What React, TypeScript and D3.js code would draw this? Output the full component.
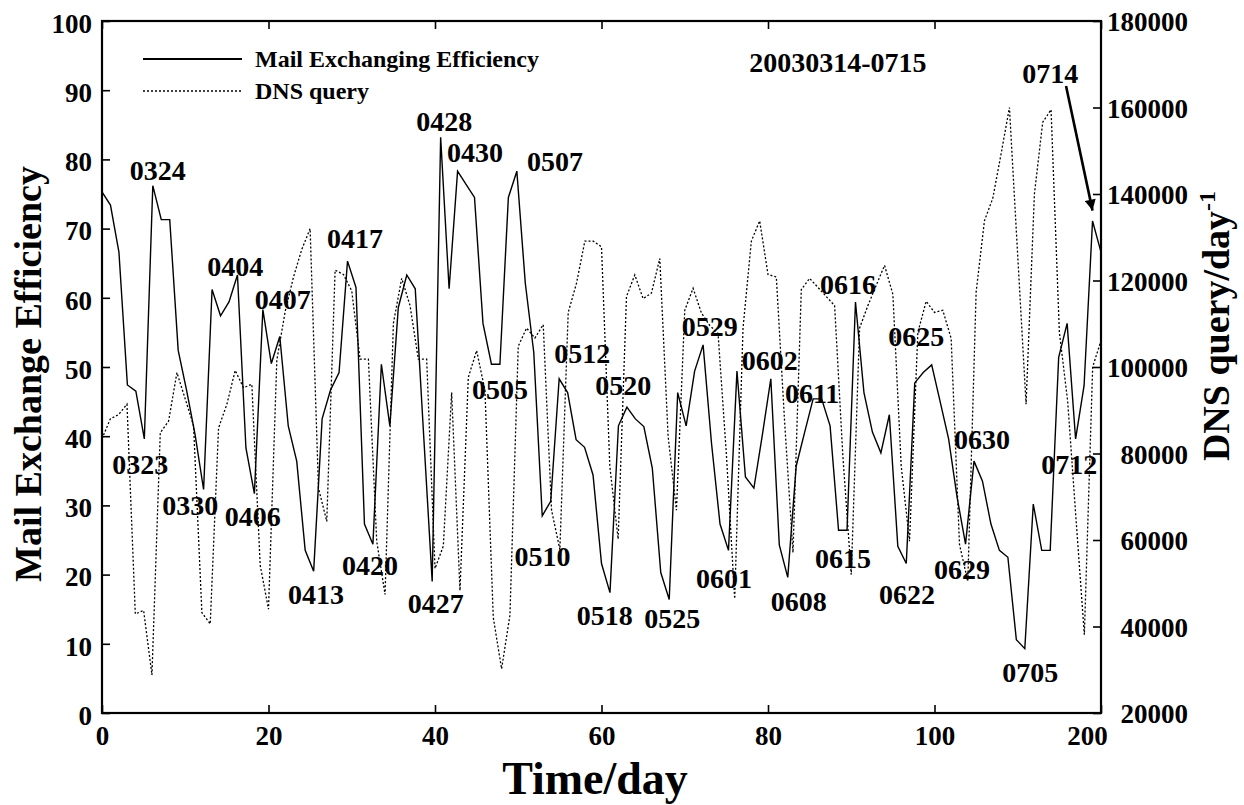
import * as d3 from "d3";
import React, { useRef, useEffect } from "react";

const width = 1244;
const height = 805;
const margin = { top: 21, right: 143, bottom: 92, left: 102 };
const font = "'Liberation Serif', 'Times New Roman', Times, serif";

// mail exchanging efficiency, one sample per step (spread over 0..120 days)
const mailEff = [
  75.3, 73.4, 66.6, 47.4, 46.5, 39.6, 76.2, 71.3, 71.3, 52.4,
  46.6, 40.2, 32.3, 61.2, 57.4, 59.4, 63.3, 38.3, 31.7, 58.3,
  50.5, 54.4, 41.5, 36.4, 23.5, 20.5, 42.5, 46.7, 49.2, 65.3,
  61.5, 27.3, 24.4, 50.4, 41.5, 58.6, 63.3, 61.3, 40, 19,
  83.2, 61.3, 78.3, 76.4, 74.5, 56.3, 50.4, 50.4, 74.5, 78.3,
  62.1, 52.1, 28.5, 30.6, 48.3, 46.3, 39.5, 38.4, 34.4, 21.6,
  17.4, 41.5, 44.2, 42.5, 41.4, 35.4, 20.3, 16.4, 46.3, 41.5,
  49.4, 53.2, 38.9, 27.3, 23.5, 49.4, 34.1, 32.5, 40.2, 48.3,
  24.3, 19.6, 35.7, 40.6, 45.4, 45.4, 41.5, 26.4, 26.4, 59.4,
  46.3, 40.6, 37.6, 43.1, 24.1, 21.6, 47.7, 49.2, 50.3, 45,
  39.6, 31.2, 24.4, 36.4, 33.5, 27.3, 23.5, 22.5, 10.6, 9.3,
  30.2, 23.5, 23.5, 51.4, 56.3, 39.6, 47.3, 71.1, 66.6,
];

// DNS queries per day, one per day 0..120
const dnsQuery = [
  83400, 88000, 89000, 91400, 42900, 43700, 28800, 84800, 87500, 98700,
  92600, 86400, 43200, 40600, 85900, 91400, 99200, 95200, 96000, 54200,
  44000, 101600, 112800, 120800, 127200, 132000, 72000, 64300, 122400, 121400,
  117600, 101800, 101800, 59700, 47400, 110100, 120500, 114200, 101800, 101800,
  53400, 58600, 94100, 48300, 97600, 103800, 94600, 42100, 30200, 42600,
  104800, 109000, 106700, 109800, 66900, 57800, 112600, 119400, 129100, 129100,
  127800, 77000, 60200, 116300, 121300, 115800, 117100, 125100, 84000, 66900,
  113100, 118200, 112500, 109600, 107800, 79800, 46400, 109000, 129100, 133800,
  121400, 120800, 87200, 57100, 117900, 120500, 118400, 116300, 114200, 79200,
  52000, 109000, 114200, 118900, 123500, 116800, 77100, 59700, 108000, 115200,
  112600, 113100, 106600, 59000, 50400, 117300, 133800, 139000, 149300, 160000,
  125600, 91400, 140000, 156600, 159500, 108000, 92000, 64800, 38100, 100000,
  106100,
];

const xTicks = [0, 20, 40, 60, 80, 100, 120];
const xTickLabels = ["0", "20", "40", "60", "80", "100", "200"];
const leftTicks = [0, 10, 20, 30, 40, 50, 60, 70, 80, 90, 100];
const rightTicks = [20000, 40000, 60000, 80000, 100000, 120000, 140000, 160000, 180000];

// date annotations: label, day, efficiency level
const dateLabels: [string, number, number][] = [
  ["0323", 4.6, 36], ["0324", 6.7, 78.5], ["0330", 10.6, 30.1], ["0404", 16.0, 64.6],
  ["0406", 18.1, 28.5], ["0407", 21.7, 59.8], ["0413", 25.7, 17.2], ["0417", 30.4, 68.6],
  ["0420", 32.2, 21.4], ["0427", 40.1, 15.9], ["0428", 41.1, 85.5], ["0430", 44.8, 81.1],
  ["0505", 47.8, 46.8], ["0507", 54.4, 79.8], ["0510", 52.9, 22.7], ["0512", 57.7, 52.0],
  ["0518", 60.4, 14.2], ["0520", 62.6, 47.3], ["0525", 68.5, 13.7], ["0529", 73.0, 55.9],
  ["0601", 74.7, 19.5], ["0602", 80.2, 51.0], ["0608", 83.7, 16.2], ["0611", 85.3, 46.2],
  ["0615", 89.0, 22.4], ["0616", 89.6, 62.0], ["0622", 96.7, 17.2], ["0625", 97.8, 54.5],
  ["0629", 103.3, 20.8], ["0630", 105.7, 39.5], ["0705", 111.5, 5.9], ["0712", 116.2, 36.0],
  ["0714", 113.9, 92.5],
];

function App() {
  const ref = useRef(null);

  useEffect(() => {
    const svg = d3.select(ref.current);
    svg.selectAll("*").remove();

    const x = d3.scaleLinear().domain([0, 120]).range([margin.left, width - margin.right]);
    const yL = d3.scaleLinear().domain([0, 100]).range([height - margin.bottom, margin.top]);
    const yR = d3.scaleLinear().domain([20000, 180000]).range([height - margin.bottom, margin.top]);
    const step = 120 / (mailEff.length - 1);

    const defs = svg.append("defs");
    defs.append("clipPath").attr("id", "plot")
      .append("rect")
      .attr("x", margin.left).attr("y", margin.top)
      .attr("width", width - margin.left - margin.right)
      .attr("height", height - margin.top - margin.bottom);
    defs.append("marker")
      .attr("id", "arrow").attr("viewBox", "0 0 10 10")
      .attr("refX", 10).attr("refY", 5)
      .attr("markerUnits", "userSpaceOnUse")
      .attr("markerWidth", 14).attr("markerHeight", 11)
      .attr("orient", "auto")
      .append("path").attr("d", "M0,0L10,5L0,10z").attr("fill", "#000");

    const styleAxis = (g, size) => {
      g.select(".domain").remove();
      g.selectAll("line").attr("stroke", "#000").attr("stroke-width", 1.6);
      g.selectAll("text")
        .attr("font-family", font).attr("font-weight", "bold")
        .attr("font-size", size).attr("fill", "#000");
    };

    // bottom axis
    const gx = svg.append("g")
      .attr("transform", `translate(0,${height - margin.bottom})`)
      .call(d3.axisBottom(x).tickValues(xTicks)
        .tickFormat((d, i) => xTickLabels[i])
        .tickSizeInner(-8).tickSizeOuter(0).tickPadding(13));
    styleAxis(gx, 27);
    gx.selectAll("text").filter((d) => d === 120).attr("dx", -14);

    // top ticks
    const gt = svg.append("g")
      .attr("transform", `translate(0,${margin.top})`)
      .call(d3.axisTop(x).tickValues(xTicks).tickFormat(() => "")
        .tickSizeInner(-8).tickSizeOuter(0));
    styleAxis(gt, 27);

    // left axis
    const gl = svg.append("g")
      .attr("transform", `translate(${margin.left},0)`)
      .call(d3.axisLeft(yL).tickValues(leftTicks).tickFormat(d3.format("d"))
        .tickSizeInner(-8).tickSizeOuter(0).tickPadding(10));
    styleAxis(gl, 27);
    gl.selectAll("text").attr("dy", "0.42em");

    // right axis
    const gr = svg.append("g")
      .attr("transform", `translate(${width - margin.right},0)`)
      .call(d3.axisRight(yR).tickValues(rightTicks).tickFormat(d3.format("d"))
        .tickSizeInner(-8).tickSizeOuter(0).tickPadding(87));
    styleAxis(gr, 27);
    gr.selectAll("text").attr("text-anchor", "end").attr("dy", "0.36em");

    // frame
    svg.append("rect")
      .attr("x", margin.left).attr("y", margin.top)
      .attr("width", width - margin.left - margin.right)
      .attr("height", height - margin.top - margin.bottom)
      .attr("fill", "none").attr("stroke", "#000").attr("stroke-width", 2.2);

    const plot = svg.append("g").attr("clip-path", "url(#plot)");

    const dnsLine = d3.line().x((d, i) => x(i)).y((d) => yR(d));
    plot.append("path")
      .attr("d", dnsLine(dnsQuery))
      .attr("fill", "none").attr("stroke", "#000")
      .attr("stroke-width", 1.3).attr("stroke-dasharray", "2,2");

    const mailLine = d3.line().x((d, i) => x(i * step)).y((d) => yL(d));
    plot.append("path")
      .attr("d", mailLine(mailEff))
      .attr("fill", "none").attr("stroke", "#000")
      .attr("stroke-width", 1.4).attr("stroke-linejoin", "miter");

    // date labels
    svg.append("g")
      .selectAll("text")
      .data(dateLabels)
      .enter()
      .append("text")
      .attr("x", (d) => x(d[1]))
      .attr("y", (d) => yL(d[2]))
      .attr("dy", "0.35em")
      .attr("text-anchor", "middle")
      .attr("font-family", font).attr("font-weight", "bold")
      .attr("font-size", 28)
      .text((d) => d[0]);

    // arrow from 0714 to the last peak
    svg.append("line")
      .attr("x1", x(115.8)).attr("y1", yL(90.6))
      .attr("x2", x(117 * step)).attr("y2", yL(72.6))
      .attr("stroke", "#000").attr("stroke-width", 2.6)
      .attr("marker-end", "url(#arrow)");

    svg.append("text")
      .attr("x", x(88.4)).attr("y", yL(94.1)).attr("dy", "0.35em")
      .attr("text-anchor", "middle")
      .attr("font-family", font).attr("font-weight", "bold").attr("font-size", 28)
      .text("20030314-0715");

    // legend
    const legend = svg.append("g").attr("font-family", font).attr("font-weight", "bold").attr("font-size", 24);
    legend.append("line").attr("x1", 143).attr("x2", 242).attr("y1", 59).attr("y2", 59)
      .attr("stroke", "#000").attr("stroke-width", 2);
    legend.append("text").attr("x", 255).attr("y", 59).attr("dy", "0.35em").text("Mail Exchanging Efficiency");
    legend.append("line").attr("x1", 143).attr("x2", 242).attr("y1", 91).attr("y2", 91)
      .attr("stroke", "#000").attr("stroke-width", 1.3).attr("stroke-dasharray", "2,2");
    legend.append("text").attr("x", 255).attr("y", 91).attr("dy", "0.35em").text("DNS query");

    // axis titles
    svg.append("text")
      .attr("x", 595).attr("y", 794)
      .attr("text-anchor", "middle")
      .attr("font-family", font).attr("font-weight", "bold").attr("font-size", 46)
      .text("Time/day");

    svg.append("text")
      .attr("transform", "translate(28,374) rotate(-90)")
      .attr("dy", "0.35em")
      .attr("text-anchor", "middle")
      .attr("font-family", font).attr("font-weight", "bold").attr("font-size", 38)
      .text("Mail Exchange Efficiency");

    const rt = svg.append("text")
      .attr("transform", "translate(1216,326) rotate(-90)")
      .attr("dy", "0.35em")
      .attr("text-anchor", "middle")
      .attr("font-family", font).attr("font-weight", "bold").attr("font-size", 38);
    rt.append("tspan").text("DNS query/day");
    rt.append("tspan").attr("font-size", 24).attr("dy", "-0.6em").text("-1");
  }, []);

  return (
    <svg
      ref={ref}
      width={width}
      height={height}
      style={{ position: "absolute", left: 0, top: 0, background: "#fff" }}
    />
  );
}

export default App;
